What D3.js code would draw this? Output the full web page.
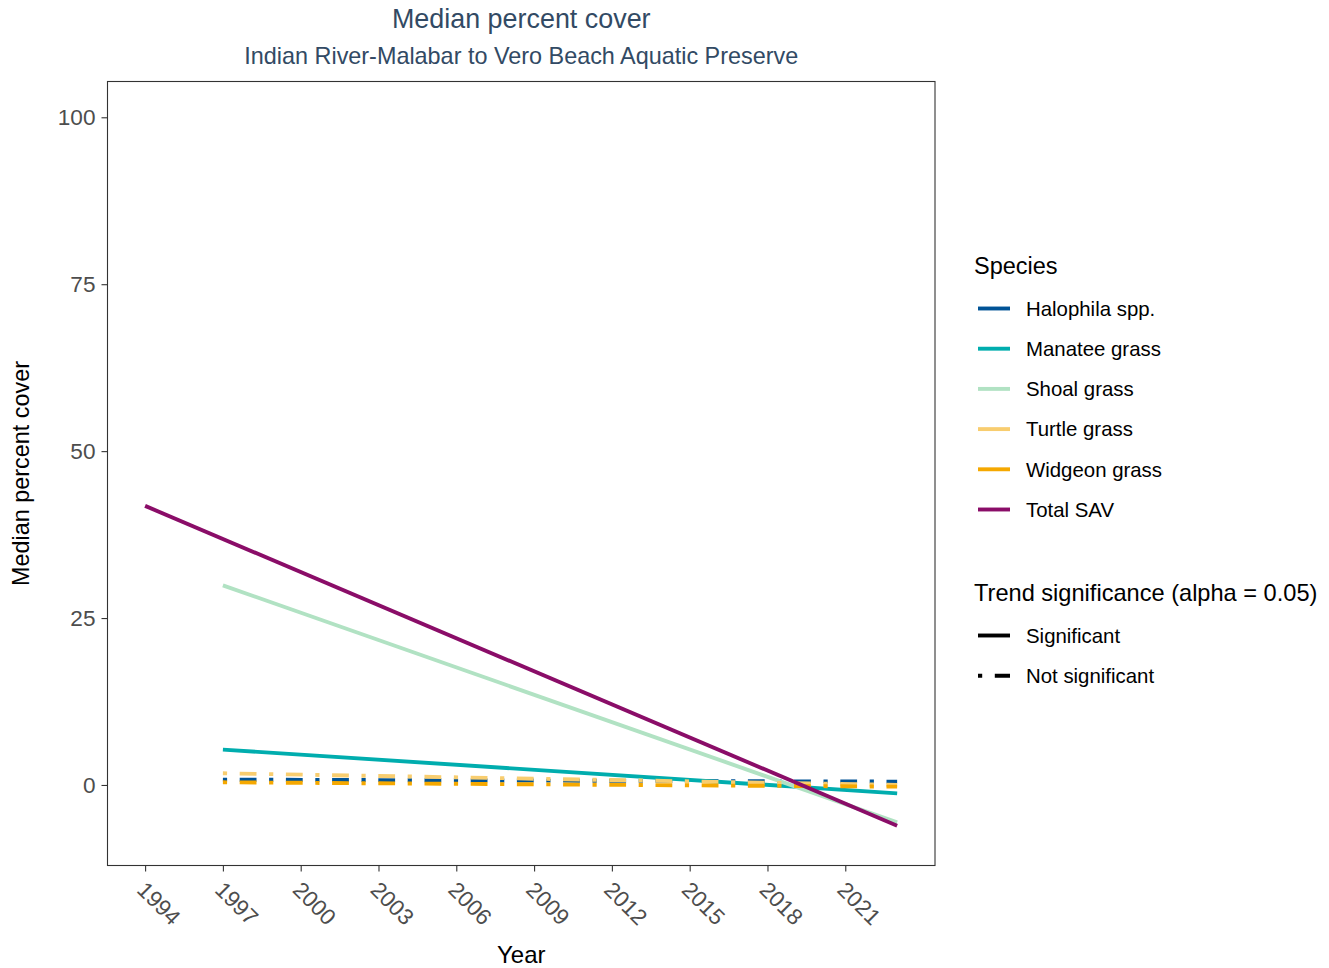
<!DOCTYPE html>
<html>
<head>
<meta charset="utf-8">
<script src="https://cdn.jsdelivr.net/npm/d3@7"></script>
<style>
  html, body { margin: 0; padding: 0; background: #fff; }
  svg { display: block; font-family: "Liberation Sans", Arial, sans-serif; }
</style>
</head>
<body>
<svg id="chart" width="1329" height="968"></svg>
<script>
// ---- data (trend lines: start/end values) ----
const species = ["Halophila spp.", "Manatee grass", "Shoal grass", "Turtle grass", "Widgeon grass", "Total SAV"];
const speciesColors = ["#005396", "#00ADAE", "#B1E2C3", "#F8CD6F", "#F5A800", "#8A0D68"];
const startYears = [1997, 1997, 1997, 1997, 1997, 1994];
const endYears = [2023, 2023, 2023, 2023, 2023, 2023];
const startValues = [0.8, 5.3, 29.9, 1.75, 0.4, 41.8];
const endValues = [0.5, -1.25, -5.6, 0.0, -0.25, -6.1];
const significant = [false, true, true, false, false, true];
const xTickYears = [1994, 1997, 2000, 2003, 2006, 2009, 2012, 2015, 2018, 2021];
const yTickValues = [0, 25, 50, 75, 100];
const sigLabels = ["Significant", "Not significant"];

const titleText = "Median percent cover";
const subtitleText = "Indian River-Malabar to Vero Beach Aquatic Preserve";
const xTitle = "Year";
const yTitle = "Median percent cover";

// ---- layout ----
const svg = d3.select("#chart");
const panel = { left: 107.5, top: 81.5, right: 935, bottom: 865.5 };
const x = d3.scaleLinear().domain([1992.55, 2024.46]).range([panel.left, panel.right]);
const y = d3.scaleLinear().domain([-12.06, 105.36]).range([panel.bottom, panel.top]);
const dashPattern = "4.2,12.6,16.8,12.6";
const lineW = 3.9;

// titles
svg.append("text").attr("x", (panel.left + panel.right) / 2).attr("y", 28)
  .attr("text-anchor", "middle").attr("font-size", 26.9).attr("fill", "#324A64").text(titleText);
svg.append("text").attr("x", (panel.left + panel.right) / 2).attr("y", 64)
  .attr("text-anchor", "middle").attr("font-size", 23.4).attr("fill", "#324A64").text(subtitleText);

// lines
const data = species.map((s, i) => ({
  name: s, color: speciesColors[i], sig: significant[i],
  pts: [{ yr: startYears[i], v: startValues[i] }, { yr: endYears[i], v: endValues[i] }]
}));
const lineGen = d3.line().x(d => x(d.yr)).y(d => y(d.v));
const gLines = svg.append("g");
gLines.selectAll("path").data(data).enter().append("path")
  .attr("d", d => lineGen(d.pts))
  .attr("fill", "none")
  .attr("stroke", d => d.color)
  .attr("stroke-width", lineW)
  .attr("stroke-linecap", "butt")
  .attr("stroke-dasharray", d => d.sig ? null : dashPattern);

// panel border
svg.append("rect").attr("x", panel.left).attr("y", panel.top)
  .attr("width", panel.right - panel.left).attr("height", panel.bottom - panel.top)
  .attr("fill", "none").attr("stroke", "#333333").attr("stroke-width", 1.1);

// y axis
const yAxis = svg.append("g").attr("transform", `translate(${panel.left},0)`)
  .call(d3.axisLeft(y).tickValues(yTickValues).tickSize(6).tickPadding(6).tickFormat(d3.format("d")));
yAxis.select(".domain").remove();
yAxis.selectAll(".tick line").attr("stroke", "#333333").attr("stroke-width", 1.1);
yAxis.selectAll(".tick text").attr("font-size", 22.6).attr("fill", "#4D4D4D")
  .attr("font-family", "Liberation Sans, Arial, sans-serif");

// x axis
const xAxis = svg.append("g").attr("transform", `translate(0,${panel.bottom})`)
  .call(d3.axisBottom(x).tickValues(xTickYears).tickSize(6).tickFormat(d3.format("d")));
xAxis.select(".domain").remove();
xAxis.selectAll(".tick line").attr("stroke", "#333333").attr("stroke-width", 1.1);
xAxis.selectAll(".tick text")
  .attr("font-size", 22.4).attr("fill", "#4D4D4D")
  .attr("font-family", "Liberation Sans, Arial, sans-serif")
  .attr("text-anchor", "start")
  .attr("y", 0).attr("dy", "0.71em")
  .attr("transform", "translate(1.5,14.5) rotate(45)");

// axis titles
svg.append("text").attr("x", (panel.left + panel.right) / 2).attr("y", 962.5)
  .attr("text-anchor", "middle").attr("font-size", 24).attr("fill", "#000").text(xTitle);
svg.append("text").attr("transform", `translate(29,${(panel.top + panel.bottom) / 2}) rotate(-90)`)
  .attr("text-anchor", "middle").attr("font-size", 23.4).attr("fill", "#000").text(yTitle);

// legend: species
const lg = svg.append("g");
lg.append("text").attr("x", 974).attr("y", 274).attr("font-size", 23.5).attr("fill", "#000").text("Species");
const legY = d3.scaleLinear().domain([0, 1]).range([308.5, 348.7]);
species.forEach((s, i) => {
  const yy = legY(i);
  lg.append("line").attr("x1", 978).attr("x2", 1010).attr("y1", yy).attr("y2", yy)
    .attr("stroke", speciesColors[i]).attr("stroke-width", lineW);
  lg.append("text").attr("x", 1026).attr("y", yy).attr("dy", "0.36em")
    .attr("font-size", 20.4).attr("fill", "#000").text(s);
});

// legend: significance
lg.append("text").attr("x", 974).attr("y", 601).attr("font-size", 23.6).attr("fill", "#000")
  .text("Trend significance (alpha = 0.05)");
sigLabels.forEach((s, i) => {
  const yy = 635.5 + i * 40.3;
  lg.append("line").attr("x1", 978).attr("x2", 1010).attr("y1", yy).attr("y2", yy)
    .attr("stroke", "#000").attr("stroke-width", lineW)
    .attr("stroke-dasharray", i === 0 ? null : dashPattern);
  lg.append("text").attr("x", 1026).attr("y", yy).attr("dy", "0.36em")
    .attr("font-size", 20.4).attr("fill", "#000").text(s);
});
</script>
</body>
</html>
